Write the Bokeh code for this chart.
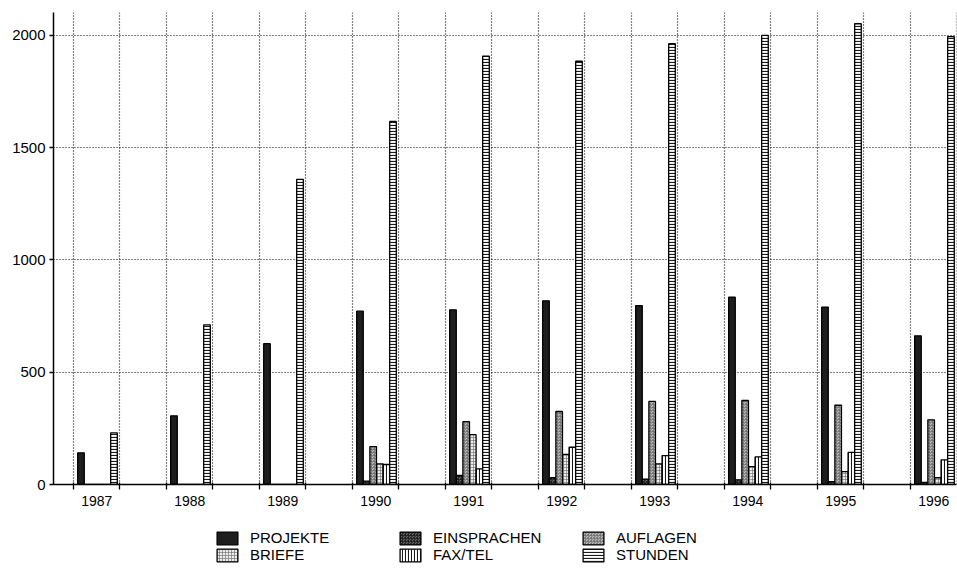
from bokeh.plotting import figure
from bokeh.layouts import column
from bokeh.models import (Range1d, FixedTicker, Legend, LegendItem, ColumnDataSource)
from bokeh.embed import file_html
from bokeh.resources import INLINE

years = ["1987", "1988", "1989", "1990", "1991", "1992", "1993", "1994", "1995", "1996"]
projekte = [141, 306, 627, 772, 778, 818, 797, 834, 790, 662]
einsprachen = [0, 0, 0, 15, 40, 30, 24, 21, 13, 9]
auflagen = [0, 0, 0, 169, 280, 325, 370, 374, 353, 288]
briefe = [0, 0, 0, 92, 222, 134, 92, 80, 57, 30]
faxtel = [0, 0, 0, 89, 70, 166, 129, 123, 143, 110]
stunden = [230, 711, 1359, 1617, 1908, 1885, 1963, 2000, 2052, 1995]
y_ticks = [0, 500, 1000, 1500, 2000]

series = [
    ("PROJEKTE", projekte, dict(fill_color="#1e1e1e")),
    ("BRIEFE", briefe, dict(fill_color="#ececec", hatch_pattern="cross", hatch_color="#6a6a6a", hatch_scale=3, hatch_weight=0.6)),
    ("EINSPRACHEN", einsprachen, dict(fill_color="#666666", hatch_pattern="criss_cross", hatch_color="#1a1a1a", hatch_scale=3, hatch_weight=0.7)),
    ("FAX/TEL", faxtel, dict(fill_color="white", hatch_pattern="vertical_line", hatch_color="#1a1a1a", hatch_scale=3, hatch_weight=1.1)),
    ("AUFLAGEN", auflagen, dict(fill_color="#bdbdbd", hatch_pattern="criss_cross", hatch_color="#6a6a6a", hatch_scale=3, hatch_weight=0.6)),
    ("STUNDEN", stunden, dict(fill_color="white", hatch_pattern="horizontal_line", hatch_color="#1a1a1a", hatch_scale=3, hatch_weight=1.2)),
]
# bar order inside each year group
bar_order = ["PROJEKTE", "EINSPRACHEN", "AUFLAGEN", "BRIEFE", "FAX/TEL", "STUNDEN"]
legend_names = ["PROJEKTE", "EINSPRACHEN", "AUFLAGEN", "BRIEFE", "FAX/TEL", "STUNDEN"]

p = figure(width=957, height=510, output_backend="svg", toolbar_location=None,
           x_range=Range1d(-0.43, 18.99), y_range=Range1d(0, 2102),
           min_border_left=53, min_border_right=1, min_border_top=12, min_border_bottom=26)
p.outline_line_color = None
p.background_fill_color = "white"
p.border_fill_color = "white"

# legend strip below the chart (its own figure; its renderers are hidden, only the legend shows)
pl = figure(width=957, height=58, output_backend="svg", toolbar_location=None,
            x_range=Range1d(-0.43, 18.99), y_range=Range1d(5000, 5001),
            min_border_left=0, min_border_right=0, min_border_top=0, min_border_bottom=0)
pl.axis.visible = False
pl.grid.visible = False
pl.outline_line_color = None
pl.border_fill_color = "white"
pl.background_fill_color = "white"

slot_off = 0.09
bar_w = 0.142
legend_renderers = {}
for name, vals, style in series:
    j = bar_order.index(name)
    xs = [2 * i + slot_off + bar_w * (j + 0.5) for i in range(len(years))]
    src = ColumnDataSource(dict(x=xs, top=vals))
    p.vbar(x="x", top="top", bottom=0, width=bar_w, source=src,
           line_color="black", line_width=1.3, **style)
    legend_renderers[name] = pl.vbar(x="x", top="top", bottom=0, width=bar_w, source=src,
                                     line_color="black", line_width=1.3, visible=False, **style)

centers = [2 * i + 0.5 for i in range(len(years))]
ticker = FixedTicker(ticks=centers, minor_ticks=list(range(0, 20)))
p.xaxis.ticker = ticker
p.xaxis.major_label_overrides = {c: y for c, y in zip(centers, years)}
p.xaxis.major_tick_out = 0
p.xaxis.major_tick_in = 0
p.xaxis.minor_tick_out = 5
p.xaxis.minor_tick_in = 2
p.xaxis.minor_tick_line_color = "black"
p.xaxis.minor_tick_line_width = 1.3
p.xaxis.axis_line_color = "black"
p.xaxis.axis_line_width = 1.5
p.xaxis.major_label_standoff = 6
p.xaxis.major_label_text_font = "Liberation Sans"
p.xaxis.major_label_text_font_size = "14px"
p.xaxis.major_label_text_color = "black"

p.yaxis.ticker = FixedTicker(ticks=y_ticks, minor_ticks=[])
p.yaxis.major_tick_out = 4
p.yaxis.major_tick_in = 0
p.yaxis.major_tick_line_color = "black"
p.yaxis.major_tick_line_width = 1.3
p.yaxis.axis_line_color = "black"
p.yaxis.axis_line_width = 1.5
p.yaxis.major_label_standoff = 4
p.yaxis.major_label_text_font = "Liberation Sans"
p.yaxis.major_label_text_font_size = "15px"
p.yaxis.major_label_text_color = "black"

p.xgrid.grid_line_color = None
p.xgrid.minor_grid_line_color = "black"
p.xgrid.minor_grid_line_dash = "1 2"
p.xgrid.minor_grid_line_width = 1.2
p.ygrid.grid_line_color = "black"
p.ygrid.grid_line_dash = "1 2"
p.ygrid.grid_line_width = 1.2

items = [LegendItem(label=n, renderers=[legend_renderers[n]]) for n in legend_names]
legend = Legend(items=items, orientation="horizontal", ncols=3, location=(161, 5),
                glyph_width=26, glyph_height=16, label_standoff=10, label_width=147,
                label_height=14, spacing=0, padding=0, margin=0, click_policy="none",
                label_text_font="Liberation Sans", label_text_font_size="15px",
                label_text_color="black", border_line_color=None, background_fill_alpha=0)
pl.add_layout(legend, "center")

layout = column(p, pl, spacing=0)
open("out.html", "w").write(file_html(layout, INLINE))
